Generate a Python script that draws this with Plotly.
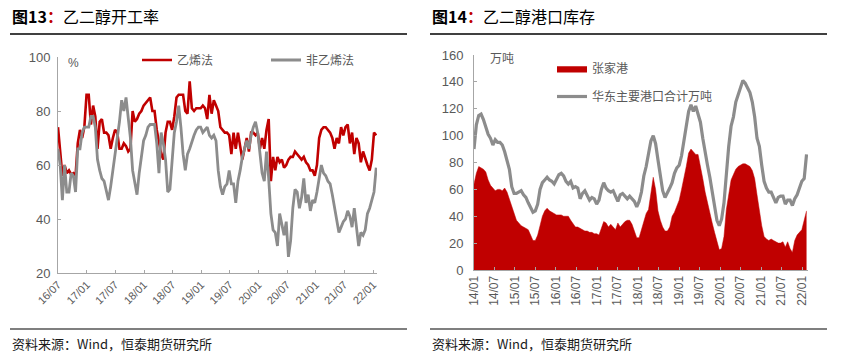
import pandas as pd
import plotly.graph_objects as go

# ---------------- Data: 图13 乙二醇开工率 (biweekly, from 2016-07-01) ----------------
left_start = "2016-07-01"
ethylene_rate = [74,66,56,60,57,58,56.5,57,56,68, 73,70,74,86,86,75,82,78,66,76,
                 77,72,72,71,66,70,73,72,66,66, 68,67,65,66,80,76,77,79,80,82,
                 83,84,85,80,80,73,68,64,62,72, 76,76,73,78,85,86,86,86,80,79,
                 91,81,80,81,81,81,82,81,77,86, 79,84,82,80,74,73,72,72,71,64,
                 72,66,72,67,62,66,70,65,72,72, 71,72,66,70,66,73,77,54,63,58,
                 63,61,62,59,60,62,63,63,65,64, 63,62,63,61,60,58,58,56,60,70,
                 73,74,74,73,72,70,66,70,68,74, 71,74,75,68,72,64,70,68,61,65,
                 62,60,58,62,72,71]
non_ethylene_rate = [66,60,47,60,50,50,57,56,50,66, 66,72,74,74,74,78,78,74,62,58,
                     55,54,51,47,52,58,62,68,76,84, 80,85,78,70,58,54,49,57,64,69,
                     71,74,75,75,75,68,57,72,68,62, 50,51,62,72,76,82,74,64,58,64,
                     66,69,71,73,74,74,72,73,74,71, 70,71,69,58,52,49,52,53,58,53,
                     53,46,54,58,63,66,69,66,71,74, 76,72,65,57,54,65,55,42,36,35,
                     30,42,38,34,39,26,32,44,51,50, 44,48,55,46,49,43,47,46,50,56,
                     60,57,56,54,53,49,44,40,35,37, 39,40,43,41,37,44,36,30,35,34,
                     36,42,44,47,50,59]
left_tickvals = ["2016-07-01","2017-01-01","2017-07-01","2018-01-01","2018-07-01","2019-01-01",
                 "2019-07-01","2020-01-01","2020-07-01","2021-01-01","2021-07-01","2022-01-01"]
left_ticktext = ["16/07","17/01","17/07","18/01","18/07","19/01",
                 "19/07","20/01","20/07","21/01","21/07","22/01"]

# ---------------- Data: 图14 乙二醇港口库存 (every 3 weeks, from 2014-01-01) ----------------
right_start = "2014-01-01"
zjg_stock = [64,72,77,76,75,73,67,63,61,59, 60,60,59,61,58,53,48,43,37,35,
             33,32,31,30,26,22,22,26,33,40, 44,46,44,43,42,41,41,41,40,40,
             40,37,34,32,32,31,30,29,29,28, 28,27,27,26,31,36,35,32,34,32,
             30,35,32,34,36,37,37,34,29,24, 24,30,37,42,45,57,69,60,44,37,
             32,29,29,32,40,43,47,52,60,68, 77,87,90,88,86,86,78,68,58,50,
             41,35,28,22,15,16,25,45,58,67, 71,75,77,78,79,79,78,77,74,68,
             56,44,33,25,23,22,23,22,21,20, 20,21,17,21,16,13,22,26,28,30,
             37,44]
east_china_stock = [90,108,115,116,112,106,101,98,93,97, 95,95,93,88,82,75,62,57,57,58,
                    59,56,54,50,46,43,44,49,60,65, 67,69,67,66,64,68,71,72,70,66,
                    64,66,61,62,61,53,57,59,56,52, 54,53,49,52,60,65,61,59,58,59,
                    55,51,56,57,55,53,55,53,51,47, 51,58,70,77,86,96,100,94,82,71,
                    59,54,57,61,65,72,76,78,85,95, 107,118,123,118,122,116,110,98,87,78,
                    69,57,47,37,33,38,50,72,92,107, 114,125,130,136,141,139,136,132,125,114,
                    98,92,78,66,61,58,58,54,50,54, 55,55,49,52,52,48,53,56,61,66,
                    68,86]
right_tickvals = ["2014-01-01","2014-07-01","2015-01-01","2015-07-01","2016-01-01","2016-07-01",
                  "2017-01-01","2017-07-01","2018-01-01","2018-07-01","2019-01-01","2019-07-01",
                  "2020-01-01","2020-07-01","2021-01-01","2021-07-01","2022-01-01"]
right_ticktext = ["14/01","14/07","15/01","15/07","16/01","16/07","17/01","17/07","18/01",
                  "18/07","19/01","19/07","20/01","20/07","21/01","21/07","22/01"]

left_dates = pd.date_range(left_start, periods=len(ethylene_rate), freq="14D")
right_dates = pd.date_range(right_start, periods=len(zjg_stock), freq="21D")

RED = "#C00000"
GRAY = "#8C8C8C"
AXIS = "#A6A6A6"
TXT = "#595959"
CJK = "Noto Sans CJK SC"
LAT = "Liberation Sans, Arial, sans-serif"
W, H = 841, 364

def px(v):
    return v / W

def py(v):
    return (H - v) / H

fig = go.Figure()

fig.add_trace(go.Scatter(x=left_dates, y=ethylene_rate, name="乙烯法", mode="lines",
                         line=dict(color=RED, width=2.6), xaxis="x", yaxis="y", legend="legend"))
fig.add_trace(go.Scatter(x=left_dates, y=non_ethylene_rate, name="非乙烯法", mode="lines",
                         line=dict(color=GRAY, width=2.8), xaxis="x", yaxis="y", legend="legend"))

fig.add_trace(go.Scatter(x=right_dates, y=zjg_stock, name="张家港", mode="lines", fill="tozeroy",
                         fillcolor=RED, line=dict(color=RED, width=0.5),
                         xaxis="x2", yaxis="y2", legend="legend2", legendgroup="a"))
fig.add_trace(go.Scatter(x=right_dates, y=east_china_stock, name="华东主要港口合计万吨", mode="lines",
                         line=dict(color=GRAY, width=3.2),
                         xaxis="x2", yaxis="y2", legend="legend2", legendgroup="b"))

axis_common = dict(showline=True, linecolor=AXIS, linewidth=1, showgrid=False, zeroline=False,
                   ticks="inside", ticklen=3, tickcolor=AXIS, layer="above traces",
                   automargin=False)

fig.update_layout(
    width=W, height=H, margin=dict(l=0, r=0, t=0, b=0, autoexpand=False),
    paper_bgcolor="white", plot_bgcolor="white",
    xaxis=dict(domain=[px(58), px(377)], anchor="y", type="date",
               range=["2016-07-01", "2022-01-26"], tickmode="array",
               tickvals=left_tickvals, ticktext=left_ticktext, tickangle=-45,
               tickfont=dict(family=LAT, size=11, color=TXT), **axis_common),
    yaxis=dict(domain=[py(273), py(57)], anchor="x", range=[20, 100], dtick=20,
               tickfont=dict(family=LAT, size=13, color=TXT), ticklabelstandoff=4, **axis_common),
    xaxis2=dict(domain=[px(474), px(808)], anchor="y2", type="date",
                range=["2014-01-01", "2022-02-22"], tickmode="array",
                tickvals=right_tickvals, ticktext=right_ticktext, tickangle=-90,
                tickfont=dict(family=LAT, size=12, color=TXT), **axis_common),
    yaxis2=dict(domain=[py(270), py(55)], anchor="x2", range=[0, 160], dtick=20,
                tickfont=dict(family=LAT, size=13, color=TXT), ticklabelstandoff=7, **axis_common),
    legend=dict(orientation="h", x=px(137), xanchor="left", y=py(60), yanchor="middle",
                font=dict(family=CJK, size=12, color=TXT), bgcolor="rgba(0,0,0,0)",
                entrywidth=84, entrywidthmode="pixels"),
    legend2=dict(orientation="v", x=px(552), xanchor="left", y=py(54), yanchor="top",
                 font=dict(family=CJK, size=12, color=TXT), bgcolor="rgba(0,0,0,0)",
                 traceorder="grouped", tracegroupgap=9),
    showlegend=True,
)

titles = [
    (10, "<b>图13</b><b><span style='color:#C00000'>：</span></b>乙二醇开工率"),
    (430, "<b>图14</b><b><span style='color:#C00000'>：</span></b>乙二醇港口库存"),
]
for x0, t in titles:
    fig.add_annotation(x=px(x0), y=py(16), xref="paper", yref="paper", xanchor="left", yanchor="middle",
                       text=t, showarrow=False, font=dict(family=CJK, size=16, color="black"))
    fig.add_annotation(x=px(x0), y=py(343), xref="paper", yref="paper", xanchor="left", yanchor="middle",
                       text="资料来源：Wind，恒泰期货研究所", showarrow=False,
                       font=dict(family=CJK, size=13, color="#1a1a1a"))
    fig.add_shape(type="line", xref="paper", yref="paper", x0=px(x0), x1=px(x0 + 397),
                  y0=py(34), y1=py(34), line=dict(color="black", width=1.5))
    fig.add_shape(type="line", xref="paper", yref="paper", x0=px(x0), x1=px(x0 + 397),
                  y0=py(329), y1=py(329), line=dict(color="black", width=1.2))

fig.add_annotation(x=px(66), y=py(63), xref="paper", yref="paper", xanchor="left", yanchor="middle",
                   text="%", showarrow=False, font=dict(family=LAT, size=12, color=TXT))
fig.add_annotation(x=px(488), y=py(58), xref="paper", yref="paper", xanchor="left", yanchor="middle",
                   text="万吨", showarrow=False, font=dict(family=CJK, size=12, color=TXT))

fig.write_html("out.html", config={"displayModeBar": False},
               post_script="document.body.style.margin='0';document.body.style.overflow='hidden';")
